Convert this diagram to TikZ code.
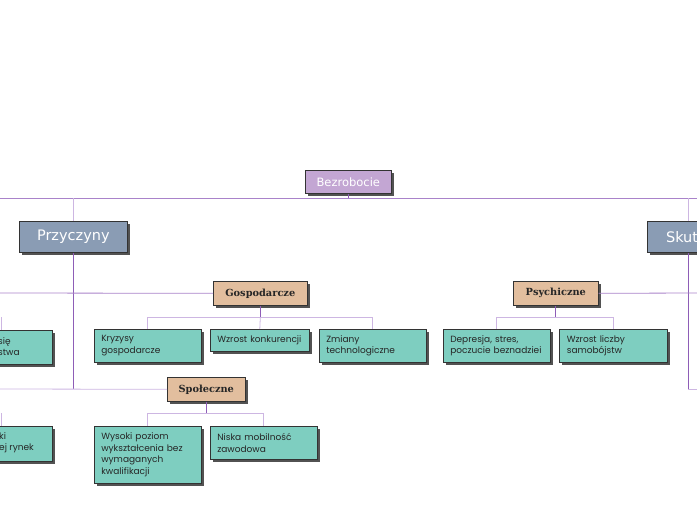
\documentclass[tikz,border=0pt]{standalone}
\usepackage{fontspec}
\setmainfont{Poppins}
\newfontfamily\hdfont{DejaVu Sans}
\newfontfamily\srfont{DejaVu Serif}
\usetikzlibrary{shadows}
\definecolor{lilac}{HTML}{C3A6D3}
\definecolor{slate}{HTML}{8A9CB4}
\definecolor{tealbox}{HTML}{7ECEC0}
\definecolor{brownbox}{HTML}{E2BE9E}
\definecolor{lndark}{HTML}{8E5DB7}
\definecolor{lnmid}{HTML}{A983CA}
\definecolor{lnlight}{HTML}{CDB6E2}
\begin{document}
\begin{tikzpicture}[x=1pt,y=-1pt,
  shd/.style={drop shadow={shadow xshift=2.5pt,shadow yshift=-2.5pt,fill=black!68,opacity=1}},
  boxbase/.style={draw=black!80,line width=0.6pt,shd,anchor=north west,inner sep=0pt},
  gbox/.style={boxbase,fill=tealbox,inner xsep=7pt,align=left,font=\fontsize{9}{11.5}\selectfont,text=black!85,minimum width=107pt,text width=93pt},
  bbox/.style={boxbase,fill=brownbox,font=\srfont\bfseries\fontsize{9.8}{11}\selectfont,text=black!85,minimum height=24pt},
  pbox/.style={boxbase,fill=slate,font=\hdfont\fontsize{14.5}{16}\selectfont,text=white,minimum height=31pt},
  frag/.style={anchor=north west,inner sep=0pt,align=left,font=\fontsize{9}{11.5}\selectfont,text=black!85},
  lnA/.style={draw=lndark,line width=0.9pt},
  lnB/.style={draw=lnmid,line width=0.8pt},
  lnC/.style={draw=lnlight,line width=0.8pt}]
\useasboundingbox (0,0) rectangle (697,520);
\clip (0,0) rectangle (697,520);

% coordinates for free ends
\coordinate (L) at (0,198);
\coordinate (R) at (697,198);
\coordinate (lg) at (0,293);
\coordinate (ls) at (0,389);
\coordinate (rg) at (697,293);
\coordinate (rs) at (697,389);
\coordinate (s1a) at (1,317);
\coordinate (s1b) at (1,330);
\coordinate (s2a) at (1,413);
\coordinate (s2b) at (1,426);

% top node
\node[boxbase,fill=lilac,font=\hdfont\fontsize{11.5}{13}\selectfont,text=white,minimum width=86pt,minimum height=23pt] (bez) at (305,170) {Bezrobocie};

% main branches
\node[pbox,minimum width=108pt] (prz) at (19,221) {Przyczyny};
\node[pbox,minimum width=82pt] (sk) at (647,221) {Skutki};

% category nodes
\node[bbox,minimum width=94pt] (gos) at (213,281) {Gospodarcze};
\node[bbox,minimum width=78pt] (spo) at (167,377) {Społeczne};
\node[bbox,minimum width=85pt] (psy) at (513,281) {Psychiczne};

% leaves
\node[gbox,minimum height=33pt] (k1) at (94,329) {Kryzysy\\gospodarcze};
\node[gbox,minimum width=99pt,text width=85pt,minimum height=22pt] (k2) at (210,329) {Wzrost konkurencji};
\node[gbox,minimum height=33pt] (k3) at (319,329) {Zmiany\\technologiczne};
\node[gbox,minimum height=57pt] (s1) at (94,426) {Wysoki poziom\\wykształcenia bez\\wymaganych\\kwalifikacji};
\node[gbox,minimum height=33pt] (s2) at (210,426) {Niska mobilność\\zawodowa};
\node[gbox,minimum height=33pt] (p1) at (443,329) {Depresja, stres,\\poczucie beznadziei};
\node[gbox,minimum height=33pt,minimum width=108pt] (p2) at (559,329) {Wzrost liczby\\samobójstw};

% clipped boxes on the left
\node[gbox,minimum height=34pt,text width=93pt] (c1) at (-55,330) {};
\node[frag] (c1t) at (-2,337) {się\\stwa};
\node[gbox,minimum height=35pt,text width=93pt] (c2) at (-55,426) {};
\node[frag] (c2t) at (-1,432) {ki\\ej rynek};

% connectors
\draw[lnB] (L) -- (R);
\draw[lnA] (bez.south) -- (bez.south |- L);
\draw[lnC] (prz.north) -- (prz.north |- L);
\draw[lnC] (sk.north) -- (sk.north |- L);

\draw[lnA] (prz.south) -- (prz.south |- ls);
\draw[lnB] (lg) -- (gos.west);
\draw[lnC] (ls) -- (spo.west);

\draw[lnA] (sk.south) -- (sk.south |- rs);
\draw[lnC] (sk.south |- rs) -- (rs);
\draw[lnB] (psy.east) -- (rg);

\draw[lnA] (gos.south) -- ++(0,12) coordinate (g0);
\draw[lnC] (g0) -| (k1.north);
\draw[lnC] (g0) -| (k3.north);
\draw[lnC] (g0) -- (k2.north);

\draw[lnA] (spo.south) -- ++(0,12) coordinate (sp0);
\draw[lnC] (sp0) -| (s1.north);
\draw[lnC] (sp0) -| (s2.north);

\draw[lnA] (psy.south) -- ++(0,12) coordinate (ps0);
\draw[lnC] (ps0) -| (p1.north);
\draw[lnC] (ps0) -| (p2.north);

\draw[lnC] (s1a) -- (s1b);
\draw[lnC] (s2a) -- (s2b);
\end{tikzpicture}
\end{document}
